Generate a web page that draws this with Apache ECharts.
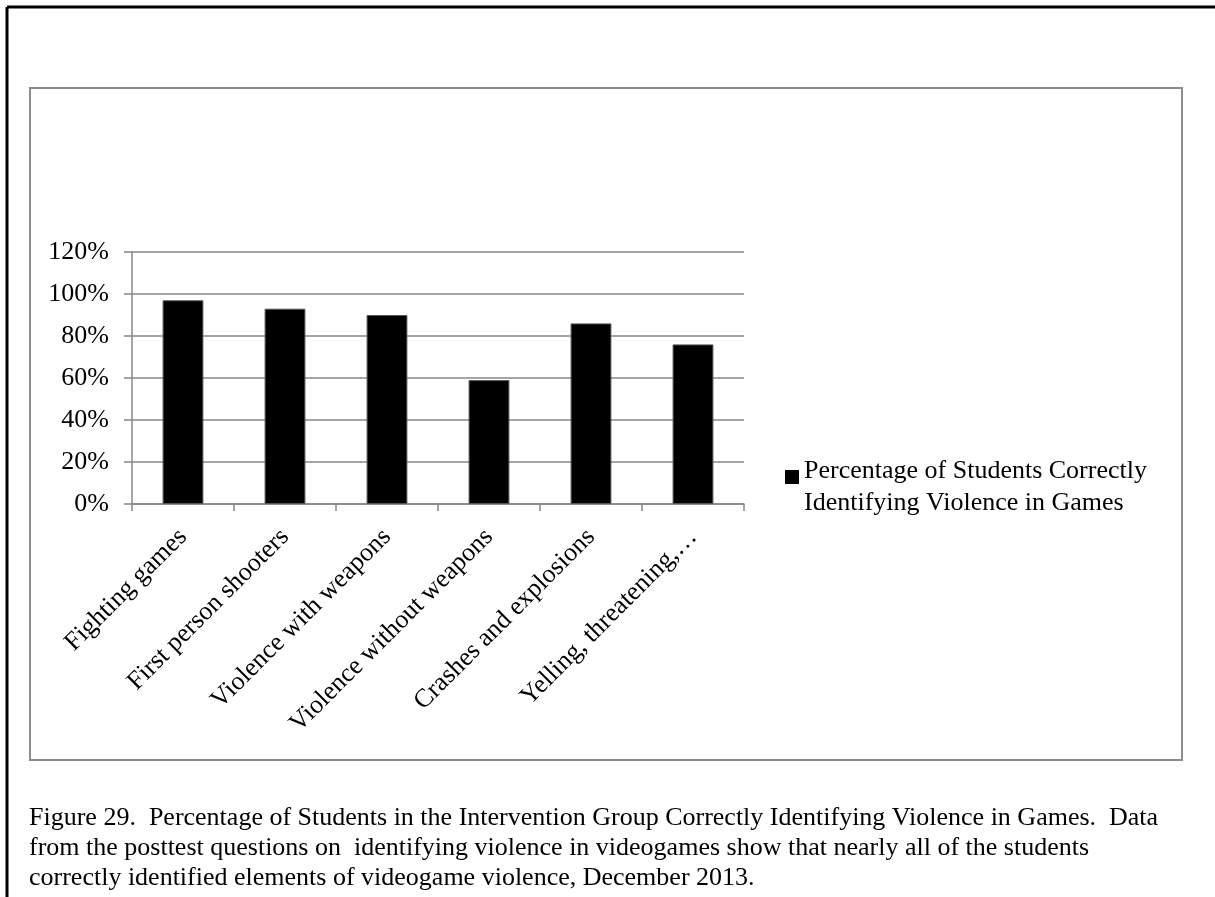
<!DOCTYPE html>
<html>
<head>
<meta charset="utf-8">
<title>Figure 29</title>
<script src="https://cdn.jsdelivr.net/npm/echarts@6/dist/echarts.min.js"></script>
<style>
  html, body { margin: 0; padding: 0; background: #fff; }
  #main { width: 1215px; height: 897px; }
</style>
</head>
<body>
<div id="main"></div>
<script>
// data
var categories = [
  'Fighting games',
  'First person shooters',
  'Violence with weapons',
  'Violence without weapons',
  'Crashes and explosions',
  'Yelling, threatening,\u2026'
]
var percentCorrect = [97, 93, 90, 59, 86, 76]
var seriesName = 'Percentage of Students Correctly Identifying Violence in Games'
var legendLines = ['Percentage of Students Correctly', 'Identifying Violence in Games']
var yTicks = { min: 0, max: 120, step: 20 }
var captionLines = [
  'Figure 29.  Percentage of Students in the Intervention Group Correctly Identifying Violence in Games.  Data',
  'from the posttest questions on  identifying violence in videogames show that nearly all of the students',
  'correctly identified elements of videogame violence, December 2013.'
]

var serif = '"Liberation Serif", "Times New Roman", serif'
var axisGray = '#878787'

var myChart = echarts.init(document.getElementById('main'), null, { renderer: 'canvas' })

var option = {
  animation: false,
  backgroundColor: '#fff',
  textStyle: { fontFamily: serif },
  // page frame, chart box and the figure caption
  graphic: [
    { type: 'line', shape: { x1: 7, y1: 7, x2: 1215, y2: 7 }, style: { stroke: '#000', lineWidth: 3 } },
    { type: 'line', shape: { x1: 7, y1: 7, x2: 7, y2: 897 }, style: { stroke: '#000', lineWidth: 3 } },
    { type: 'rect', shape: { x: 30, y: 88, width: 1152, height: 672 }, style: { fill: 'none', stroke: '#8c8c8c', lineWidth: 2 } },
    {
      type: 'text', left: 29, top: 803,
      style: { text: captionLines.join('\n'), font: '26px ' + serif, fill: '#000', lineHeight: 30 }
    }
  ],
  grid: { left: 132, right: 471, top: 252, bottom: 393, containLabel: false },
  legend: {
    data: [seriesName],
    orient: 'vertical',
    left: 785,
    top: 440,
    padding: 0,
    itemWidth: 14,
    itemHeight: 14,
    icon: 'rect',
    itemStyle: { color: '#000', borderWidth: 0 },
    // a short empty first line keeps the square level with the first text line
    formatter: function () {
      return '{s| }\n{t|' + legendLines[0] + '}\n{t|' + legendLines[1] + '}'
    },
    textStyle: {
      fontSize: 26,
      fontFamily: serif,
      color: '#000',
      rich: {
        s: { fontSize: 10, lineHeight: 20 },
        t: { fontSize: 26, fontFamily: serif, color: '#000', lineHeight: 32 }
      }
    }
  },
  xAxis: {
    type: 'category',
    data: categories,
    axisLine: { lineStyle: { color: axisGray, width: 1.5 } },
    axisTick: { show: true, length: 7, alignWithLabel: false, lineStyle: { color: axisGray, width: 1.5 } },
    axisLabel: { rotate: 45, margin: 29, fontSize: 26, fontFamily: serif, color: '#000', interval: 0 }
  },
  yAxis: {
    type: 'value',
    min: yTicks.min,
    max: yTicks.max,
    interval: yTicks.step,
    axisLine: { show: true, lineStyle: { color: axisGray, width: 1.5 } },
    axisTick: { show: true, length: 8, lineStyle: { color: axisGray, width: 1.5 } },
    splitLine: { show: true, lineStyle: { color: axisGray, width: 1.5 } },
    axisLabel: { formatter: '{value}%', margin: 23, fontSize: 26, fontFamily: serif, color: '#000' }
  },
  series: [
    {
      name: seriesName,
      type: 'bar',
      data: percentCorrect,
      barWidth: '40%',
      itemStyle: { color: '#000', borderColor: '#555', borderWidth: 1 }
    }
  ]
}

myChart.setOption(option)
</script>
</body>
</html>
